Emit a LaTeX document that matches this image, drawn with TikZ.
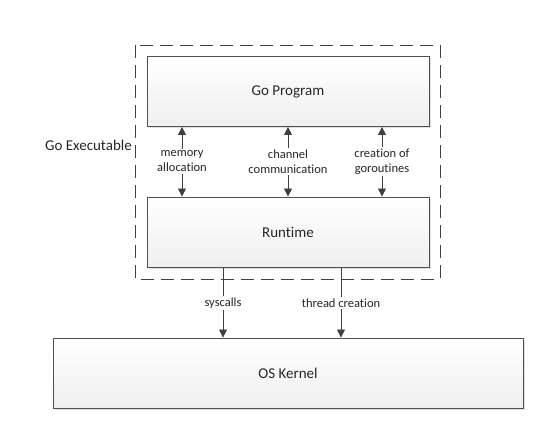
\documentclass[tikz,border=0pt]{standalone}
\usepackage{fontspec}
\setmainfont{Carlito}[Ligatures=NoCommon]
\usetikzlibrary{arrows.meta,shadows}
\definecolor{boxline}{HTML}{505050}
\definecolor{boxbot}{HTML}{EFEFEF}
\definecolor{wire}{HTML}{404040}
\tikzset{
  layer/.style={draw=boxline,line width=0.9pt,top color=white,bottom color=boxbot,
    minimum width=282pt,minimum height=70pt,inner sep=0pt,
    font=\fontsize{15}{18}\selectfont,text=black!85,
    drop shadow={shadow xshift=2pt,shadow yshift=-2pt,fill=black!12,opacity=1}},
  call/.style={align=center,inner sep=1.5pt,font=\fontsize{12.5}{15}\selectfont,text=black!85},
  link/.style={draw=wire,line width=0.8pt,-{Triangle[length=8pt,width=8pt]}}
}
\begin{document}
\begin{tikzpicture}[x=1pt,y=-1pt]
      \useasboundingbox (0,0) rectangle (549,425);
      % the executable boundary
      \draw[black!75,line width=0.8pt,dash pattern=on 13pt off 7pt] (135,45) rectangle (440,279);
      \node[anchor=east,font=\fontsize{15}{18}\selectfont,text=black!85,inner sep=0pt] (exec) at (132,145) {Go Executable};

      % the three layers
      \node[layer] (prog) at (288,91.5) {Go Program};
      \node[layer] (rt) at (288,232) {Runtime};
      \node[layer,minimum width=470pt] (os) at (288,373) {OS Kernel};

      % program <-> runtime
      \node[call] (mem) at (182,161.5) {memory\\allocation};
      \node[call] (chan) at (288,161.5) {channel\\communication};
      \node[call] (gor) at (382,161.5) {creation of\\goroutines};
      \foreach \c in {mem,chan,gor} {
        \draw[link] (\c.north) -- (\c.north |- prog.south);
        \draw[link] (\c.south) -- (\c.south |- rt.north);
      }

      % runtime -> kernel
      \node[call] (sys) at (223,303) {syscalls};
      \node[call] (thr) at (341,303) {thread creation};
      \foreach \c in {sys,thr} {
        \draw[wire,line width=0.8pt] (\c.north |- rt.south) -- (\c.north);
        \draw[link] (\c.south) -- (\c.south |- os.north);
      }
    \end{tikzpicture}
\end{document}
